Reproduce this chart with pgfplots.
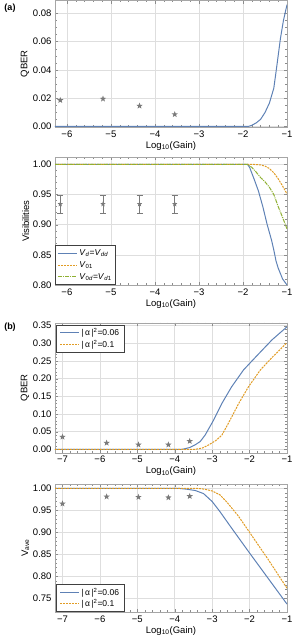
\documentclass[border=0pt]{standalone}
\usepackage{fontspec}
\setmainfont{Liberation Sans}
\usepackage{pgfplots}
\pgfplotsset{compat=1.18}
\definecolor{mblue}{HTML}{5E81B5}
\definecolor{morange}{HTML}{E19C24}
\definecolor{mgreen}{HTML}{8FB032}
\definecolor{mstar}{HTML}{7A7A7A}
\pgfdeclareplotmark{fstar}{%
  \pgfpathmoveto{\pgfpointpolar{90}{1\pgfplotmarksize}}%
  \pgfpathlineto{\pgfpointpolar{126}{0.42\pgfplotmarksize}}%
  \pgfpathlineto{\pgfpointpolar{162}{1\pgfplotmarksize}}%
  \pgfpathlineto{\pgfpointpolar{198}{0.42\pgfplotmarksize}}%
  \pgfpathlineto{\pgfpointpolar{234}{1\pgfplotmarksize}}%
  \pgfpathlineto{\pgfpointpolar{270}{0.42\pgfplotmarksize}}%
  \pgfpathlineto{\pgfpointpolar{306}{1\pgfplotmarksize}}%
  \pgfpathlineto{\pgfpointpolar{342}{0.42\pgfplotmarksize}}%
  \pgfpathlineto{\pgfpointpolar{18}{1\pgfplotmarksize}}%
  \pgfpathlineto{\pgfpointpolar{54}{0.42\pgfplotmarksize}}%
  \pgfpathclose\pgfusepathqfill}
\pgfplotsset{
  mstyle/.style={
    scale only axis, width=232pt,
    axis line style={black!35},
    tick style={black!45},
    major tick length=3pt, minor tick length=1.6pt,
    tick align=inside,
    grid=major, major grid style={black!13, line width=0.5pt},
    ticklabel style={font=\fontsize{9.5}{11}\selectfont},
    label style={font=\fontsize{9.5}{11}\selectfont},
    xlabel={Log\textsubscript{10}(Gain)},
    xlabel style={yshift=3pt},
    ylabel style={yshift=-3pt},
    scaled y ticks=false,
    /pgf/number format/assume math mode=true,
    yticklabel style={/pgf/number format/fixed,/pgf/number format/fixed zerofill,/pgf/number format/precision=2},
    legend style={font=\fontsize{8.5}{10}\selectfont, draw=black!75, line width=1pt, inner xsep=2pt, inner ysep=1.5pt, row sep=-1pt, fill=white, legend cell align=left,
      /tikz/every even column/.append style={column sep=4pt}},
    legend image code/.code={\draw[#1] (0pt,0pt) -- (19pt,0pt);},
    legend image post style={line width=0.9pt},
  },
  starstyle/.style={only marks, mark=fstar, mark size=3.3pt, color=mstar},
}
\newcommand{\alab}[1]{|\,α\,|\textsuperscript{2}=#1}
\begin{document}
\begin{tikzpicture}
\useasboundingbox (0,0) rectangle (293pt,-640pt);
\node[font=\bfseries\fontsize{9}{10}\selectfont] at (10pt,-8pt) {(a)};
\node[font=\bfseries\fontsize{9}{10}\selectfont] at (10pt,-327pt) {(b)};
% Panel 1
\begin{axis}[mstyle, at={(55pt,-0.5pt)}, anchor=north west, height=126.5pt,
  xmin=-6.27, xmax=-1, ymin=-0.0004, ymax=0.089,
  xtick={-6,-5,-4,-3,-2,-1}, xticklabels={−6,−5,−4,−3,−2,−1},
  minor x tick num=4,
  ytick={0,0.02,0.04,0.06,0.08}, minor y tick num=3,
  ylabel={QBER}]
\addplot[starstyle] coordinates {(-6.15,0.0185) (-5.18,0.0195) (-4.35,0.0145) (-3.55,0.0085)};
\addplot[mblue, line width=1pt] coordinates {(-6.27,0) (-1.88,0) (-1.8,0.0008) (-1.7,0.0025) (-1.6,0.005) (-1.5,0.0098) (-1.4,0.0165) (-1.3,0.027) (-1.23,0.043) (-1.15,0.062) (-1.08,0.075) (-1,0.086)};
\end{axis}
% Panel 2
\begin{axis}[mstyle, at={(55pt,-157.3pt)}, anchor=north west, height=127.7pt,
  xmin=-6.27, xmax=-1, ymin=0.80, ymax=1.0116,
  xtick={-6,-5,-4,-3,-2,-1}, xticklabels={−6,−5,−4,−3,−2,−1},
  minor x tick num=4,
  ytick={0.8,0.85,0.9,0.95,1.0}, minor y tick num=4,
  ylabel={Visibilities},
  legend style={at={(0,0)}, anchor=south west, row sep=0.5pt, inner ysep=2pt}]
\addplot[mblue, line width=1pt] coordinates {(-6.27,1) (-1.9,1) (-1.85,0.995) (-1.75,0.976) (-1.65,0.956) (-1.55,0.93) (-1.45,0.9) (-1.35,0.874) (-1.3,0.858) (-1.25,0.84) (-1.2,0.828) (-1.1,0.81) (-1,0.80)};
\addlegendentry{\textit{V}\textsubscript{\textit{d}}=\textit{V}\textsubscript{\textit{dd}}}
\addplot[morange, line width=1pt, dash pattern=on 2pt off 1pt] coordinates {(-6.27,1) (-1.8,1) (-1.6,0.999) (-1.5,0.997) (-1.4,0.993) (-1.3,0.986) (-1.2,0.976) (-1.1,0.964) (-1,0.951)};
\addlegendentry{\textit{V}\textsubscript{01}}
\addplot[mgreen, line width=1pt, dash pattern=on 4pt off 1pt on 1pt off 1pt] coordinates {(-6.27,1) (-1.9,1) (-1.8,0.995) (-1.7,0.987) (-1.6,0.978) (-1.5,0.971) (-1.4,0.962) (-1.3,0.95) (-1.2,0.93) (-1.1,0.912) (-1,0.893)};
\addlegendentry{\textit{V}\textsubscript{0\textit{d}}=\textit{V}\textsubscript{\textit{d}1}}
\addplot[only marks, mark=fstar, mark size=2.8pt, color=mstar, forget plot,
  error bars/.cd, y dir=both, y explicit, error mark options={rotate=90, mark size=3pt, line width=0.6pt, color=mstar}, error bar style={line width=0.6pt, color=mstar}]
  coordinates {(-6.15,0.934) +- (0,0.015) (-5.18,0.934) +- (0,0.015) (-4.35,0.934) +- (0,0.015) (-3.55,0.934) +- (0,0.015)};
\end{axis}
% Panel 3
\begin{axis}[mstyle, at={(55pt,-322.7pt)}, anchor=north west, height=130pt,
  xmin=-7.2, xmax=-1, ymin=-0.0096, ymax=0.3585,
  xtick={-7,-6,-5,-4,-3,-2,-1}, xticklabels={−7,−6,−5,−4,−3,−2,−1},
  minor x tick num=4,
  ytick={0,0.05,0.1,0.15,0.2,0.25,0.3,0.35}, minor y tick num=4,
  ylabel={QBER},
  legend style={at={(0.005,0.985)}, anchor=north west, inner xsep=3pt}]
\addplot[mblue, line width=1pt] coordinates {(-7.2,0) (-3.8,0) (-3.6,0.005) (-3.45,0.013) (-3.32,0.022) (-3.19,0.04) (-2.96,0.083) (-2.74,0.13) (-2.48,0.177) (-2.16,0.225) (-1.76,0.27) (-1.4,0.31) (-1,0.347)};
\addlegendentry{\alab{0.06}}
\addplot[morange, line width=1pt, dash pattern=on 2pt off 1pt] coordinates {(-7.2,0) (-3.45,0) (-3.25,0.004) (-3.1,0.012) (-2.9,0.025) (-2.74,0.04) (-2.52,0.083) (-2.29,0.13) (-2.03,0.177) (-1.71,0.225) (-1.4,0.26) (-1,0.302)};
\addlegendentry{\alab{0.1}}
\addplot[starstyle] coordinates {(-7,0.035) (-5.82,0.018) (-4.97,0.013) (-4.17,0.013) (-3.6,0.023)};
\end{axis}
% Panel 4
\begin{axis}[mstyle, at={(55pt,-484pt)}, anchor=north west, height=128pt,
  xmin=-7.2, xmax=-1, ymin=0.719, ymax=1.0098,
  xtick={-7,-6,-5,-4,-3,-2,-1}, xticklabels={−7,−6,−5,−4,−3,−2,−1},
  minor x tick num=4,
  ytick={0.75,0.8,0.85,0.9,0.95,1.0}, minor y tick num=4,
  ylabel={V\textsubscript{ave}},
  legend style={at={(0.005,0)}, anchor=south west, inner xsep=3pt}]
\addplot[mblue, line width=1pt] coordinates {(-7.2,1) (-3.9,1) (-3.68,0.998) (-3.45,0.995) (-3.23,0.988) (-3.0,0.97) (-2.8,0.948) (-2.5,0.912) (-2.0,0.853) (-1.5,0.795) (-1,0.737)};
\addlegendentry{\alab{0.06}}
\addplot[morange, line width=1pt, dash pattern=on 2pt off 1pt] coordinates {(-7.2,1) (-3.4,1) (-3.2,0.998) (-3.0,0.994) (-2.79,0.985) (-2.6,0.968) (-2.3,0.937) (-2.0,0.90) (-1.5,0.838) (-1,0.773)};
\addlegendentry{\alab{0.1}}
\addplot[starstyle] coordinates {(-7,0.965) (-5.82,0.981) (-4.97,0.98) (-4.17,0.979) (-3.6,0.982)};
\end{axis}
\end{tikzpicture}
\end{document}
